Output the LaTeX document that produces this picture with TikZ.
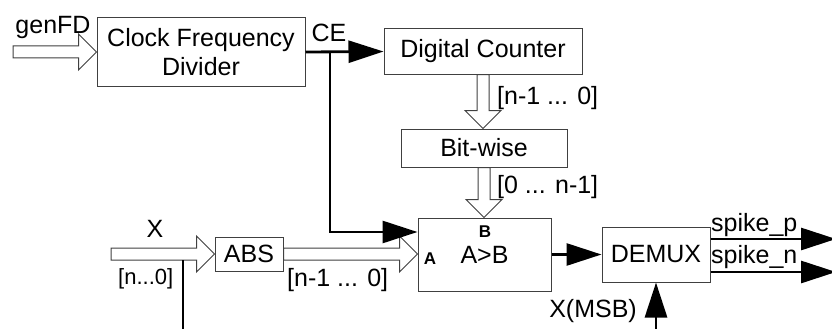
\documentclass[tikz,border=0pt]{standalone}
\usepackage{fontspec}
\setmainfont{Liberation Sans}
\usetikzlibrary{arrows.meta,calc}
\newcommand\hollowH[2]{%
  \draw[hollow] let \p1=(#1), \p2=(#2) in
    (\x1,{\y1+6pt}) -- ({\x2-18pt},{\y1+6pt}) -- ({\x2-18pt},{\y1+18pt}) -- (\x2,\y1)
    -- ({\x2-18pt},{\y1-18pt}) -- ({\x2-18pt},{\y1-6pt}) -- (\x1,{\y1-6pt}) -- cycle;}
\newcommand\hollowV[2]{%
  \draw[hollow] let \p1=(#1), \p2=(#2) in
    ({\x1+6pt},\y1) -- ({\x1+6pt},{\y2+18pt}) -- ({\x1+18pt},{\y2+18pt}) -- (\x1,\y2)
    -- ({\x1-18pt},{\y2+18pt}) -- ({\x1-6pt},{\y2+18pt}) -- ({\x1-6pt},\y1) -- cycle;}
\tikzset{
  box/.style={draw=black!75, line width=1pt, inner sep=0pt, align=center,
    font=\fontsize{25}{29}\selectfont},
  lbl/.style={inner sep=0pt, font=\fontsize{25}{29}\selectfont},
  small/.style={inner sep=0pt, font=\fontsize{22}{26}\selectfont},
  port/.style={inner sep=0pt, font=\fontsize{17}{20}\selectfont\bfseries},
  wire/.style={line width=2.8pt, -{Triangle[length=35pt,width=22pt]}},
  hollow/.style={draw=black!75, line width=1pt, fill=white, line join=miter}
}
\begin{document}
\begin{tikzpicture}[x=1pt,y=-1pt]
\useasboundingbox (0,0) rectangle (832,329);
% blocks
\node[box, minimum width=208pt, minimum height=68pt] (clk) at (201,52) {Clock Frequency\\Divider};
\node[box, minimum width=198pt, minimum height=45pt] (cnt) at (483,51.5) {Digital Counter};
\node[box, minimum width=166pt, minimum height=38pt] (bit) at (484,148) {Bit-wise};
\node[box, minimum width=133pt, minimum height=73pt] (cmp) at (484.5,254.5) {A>B};
\node[box, minimum width=68pt, minimum height=34pt] (abs) at (249,254) {ABS};
\node[box, minimum width=108pt, minimum height=55pt] (dmx) at (656,254.5) {DEMUX};
% free ends
\coordinate (gin) at (13,52);
\coordinate (xin) at (111,254);
\coordinate (ce) at (330,52);
\coordinate (xtap) at (183,260);
\coordinate (xbot) at (183,331);
\coordinate (msb) at (656,331);
\coordinate (sp) at (836,239);
\coordinate (sn) at (836,272);
% bus arrows
\hollowH{gin}{clk.west}
\hollowV{cnt.south}{bit.north}
\hollowV{bit.south}{cmp.north}
\hollowH{xin}{abs.west}
\hollowH{abs.east}{cmp.west}
% wires
\draw[wire] (clk.east) -- (cnt.west);
\draw[wire] (ce) |- ($(cmp.west)+(0,-22.5)$);
\draw[wire] (cmp.east) -- (dmx.west);
\draw[wire] (msb) -- (dmx.south);
\draw[wire] (dmx.east |- sp) -- (sp);
\draw[wire] (dmx.east |- sn) -- (sn);
\draw[line width=2.5pt] (xtap) -- (xbot);
% labels
\node[lbl, anchor=base] (lgen) at (53,34) {genFD};
\node[lbl, anchor=base] (lce) at (329,42) {CE};
\node[lbl, anchor=base west] (lq) at (497,104) {[n-1 ... 0]};
\node[lbl, anchor=base west] (lr) at (497,193) {[0 ... n-1]};
\node[lbl, anchor=base] (lx) at (155,237) {X};
\node[small, anchor=base west] (lxb) at (118,284) {[n...0]};
\node[lbl, anchor=base west] (lab) at (287,286) {[n-1 ... 0]};
\node[port, anchor=base] (pb) at (485,237) {B};
\node[port, anchor=base] (pa) at (430,264) {A};
\node[lbl, anchor=base] (lmsb) at (593,317) {X(MSB)};
\node[lbl, anchor=base west] (lsp) at (711,231) {spike\_p};
\node[lbl, anchor=base west] (lsn) at (711,263) {spike\_n};
\end{tikzpicture}
\end{document}
